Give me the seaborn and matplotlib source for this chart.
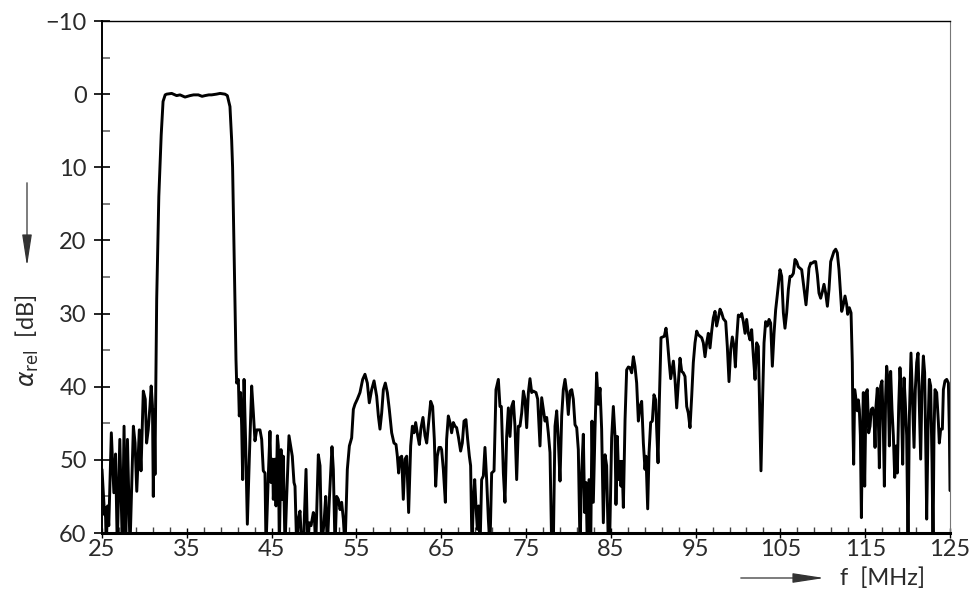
import numpy as np
import pandas as pd
import matplotlib
matplotlib.use("Agg")
import matplotlib.pyplot as plt
import seaborn as sns
from matplotlib.patches import FancyArrowPatch

# ---------------- data ----------------
f_low = [25.0, 25.15, 25.3, 25.4, 25.5, 25.65, 25.8, 26.1, 26.4, 26.6, 26.8, 27.1, 27.4, 27.6,
         27.8, 28.0, 28.3, 28.7, 28.9, 29.1, 29.4, 29.6, 29.87, 30.1, 30.26, 30.45, 30.66, 30.8,
         30.95, 31.05, 31.15, 31.25]
a_low = [51.3, 54.5, 57.5, 56.5, 62, 56.3, 59, 46.3, 54.5, 49.2, 62, 47.2, 62, 45.4,
         62, 47.2, 62, 45.4, 47.7, 54.3, 45.9, 51.5, 40.6, 41.7, 47.7, 45.9, 42.6, 39.9,
         42.6, 55.0, 43.1, 52.0]

f_pass = [31.3, 31.45, 31.7, 31.98, 32.2, 32.45, 32.63, 33.22, 33.8, 34.2, 34.79, 35.38, 35.8,
          36.36, 36.8, 37.15, 37.6, 37.93, 38.5, 38.92, 39.5, 39.78, 40.09, 40.29, 40.4, 40.68, 40.8]
a_pass = [45, 28, 14, 5.6, 1.0, 0.1, 0.0, -0.1, 0.2, 0.1, 0.4, 0.2, 0.1,
          0.1, 0.3, 0.2, 0.1, 0.1, 0.0, -0.1, 0.0, 0.2, 1.7, 6.3, 10, 28, 36.3]

f_mid1 = [40.88, 41.08, 41.19, 41.35, 41.47, 41.59, 41.75, 41.94, 42.14, 42.37, 42.65, 42.85,
          43.04, 43.24, 43.63, 43.83, 44.02, 44.22, 44.34, 44.61,
          44.81, 44.93, 45.12, 45.20, 45.40, 45.52, 45.68, 45.79, 45.91, 46.11, 46.26, 46.38,
          46.58, 46.78, 47.05, 47.25, 47.44, 47.64, 47.76, 47.96, 48.15, 48.35, 48.55, 48.74,
          49.06, 49.25, 49.45, 49.65, 49.92, 50.04, 50.20, 50.51, 50.71, 50.90, 51.18, 51.38,
          51.57, 51.81, 52.12, 52.28, 52.48, 52.67, 52.87, 53.07, 53.26, 53.46, 53.66, 53.93,
          54.17, 54.44, 54.64, 54.83, 55.11, 55.42, 55.74, 56.01, 56.29, 56.52, 56.80, 57.08,
          57.39, 57.59, 57.78, 57.98, 58.18, 58.41, 58.65, 58.88, 59.16, 59.43, 59.67, 59.83,
          59.98, 60.14, 60.34, 60.53, 60.73, 60.93, 61.16, 61.40, 61.60, 61.79, 61.99, 62.23,
          62.42, 62.62, 62.85, 63.09, 63.29, 63.48, 63.76, 63.99, 64.19, 64.35, 64.54, 64.74,
          64.94]
a_mid1 = [39.5, 39.0, 44.0, 40.8, 45.4, 52.7, 39.0, 47.7, 58.8, 49.9, 39.9, 43.6,
          47.4, 45.9, 45.9, 47.2, 51.5, 51.8, 62, 52.2,
          46.1, 53.1, 49.9, 55.4, 49.9, 56.3, 46.7, 48.1, 62, 48.6, 55.4, 49.5,
          62, 55.0, 46.7, 48.1, 49.5, 53.1, 53.6, 62, 58.1, 57.0, 62, 62,
          51.3, 62, 58.6, 59.0, 57.2, 57.7, 62, 49.3, 50.8, 62, 58.6, 55.0,
          62, 55.4, 48.2, 51.3, 62, 55.0, 55.4, 56.8, 55.8, 58.1, 62, 51.3,
          48.1, 47.0, 43.1, 42.4, 41.7, 40.8, 39.0, 38.3, 39.5, 42.2, 40.4, 39.2,
          41.3, 44.0, 45.8, 43.6, 40.4, 39.5, 40.8, 43.1, 46.3, 47.7, 47.9, 49.5,
          51.8, 49.7, 49.5, 55.4, 49.9, 49.5, 57.2, 48.1, 45.4, 46.3, 44.9, 46.7,
          47.9, 45.6, 44.2, 46.7, 47.7, 45.4, 42.0, 42.7, 47.2, 53.6, 49.5, 48.3,
          48.3]

f_mid2 = [65.05, 65.25, 65.49, 65.64, 65.84, 66.04, 66.23, 66.43, 66.63, 66.82, 67.02, 67.29,
          67.49, 67.69, 67.92, 68.12, 68.32, 68.47, 68.63, 68.79, 68.95, 69.10, 69.26, 69.42,
          69.58, 69.77, 69.97, 70.16, 70.36, 70.56, 70.75, 70.95, 71.23, 71.46, 71.74, 71.93,
          72.09, 72.33, 72.52, 72.72, 72.92, 73.11, 73.31, 73.51, 73.70, 73.90, 74.10, 74.29,
          74.49, 74.69, 74.88, 75.08, 75.28, 75.47, 75.67, 75.86, 76.18, 76.38, 76.65, 76.85,
          77.04, 77.24, 77.44, 77.63, 77.83, 78.03, 78.22, 78.42, 78.62, 78.81, 79.01, 79.21,
          79.40, 79.60, 79.80, 79.99, 80.19, 80.39, 80.58, 80.78, 80.98, 81.17, 81.37, 81.56,
          81.76, 81.92, 82.08, 82.23, 82.43, 82.63, 82.78, 82.94, 83.14, 83.33, 83.53, 83.73,
          83.92, 84.12, 84.32, 84.51, 84.71, 84.85, 85.1, 85.3]
a_mid2 = [48.6, 51.3, 55.8, 47.2, 44.0, 44.9, 46.3, 44.9, 45.4, 45.6, 46.8, 48.8,
          47.7, 44.7, 44.5, 47.2, 49.5, 50.8, 62, 55.8, 52.7, 56.3, 59.5, 56.3,
          62, 52.7, 52.2, 48.3, 52.7, 58.1, 62, 51.8, 51.5, 40.4, 39.0, 42.7,
          42.7, 51.8, 55.8, 46.8, 42.9, 46.8, 42.7, 42.0, 45.4, 52.7, 45.4, 45.4,
          43.6, 40.6, 41.7, 45.6, 40.8, 38.9, 40.8, 40.6, 40.8, 41.7, 48.1, 41.5,
          43.1, 44.7, 44.2, 46.3, 49.0, 62, 62, 45.4, 43.3, 47.2, 52.9, 44.0,
          40.4, 39.0, 40.8, 43.8, 40.6, 40.4, 41.7, 45.2, 45.6, 48.6, 62, 51.8,
          46.5, 57.2, 53.1, 62, 52.7, 62, 44.7, 55.8, 45.8, 38.1, 42.4, 40.2,
          45.8, 58.6, 49.3, 50.8, 62, 62, 47.0, 42.7]

f_mid3 = [85.50, 85.61, 85.77, 85.93, 86.09, 86.20, 86.32, 86.48, 86.68, 86.87, 87.07, 87.26,
          87.46, 87.66, 87.85, 88.05, 88.25, 88.44, 88.64, 88.84, 89.03, 89.15, 89.35, 89.51,
          89.70, 89.90, 90.09, 90.29, 90.41, 90.57, 90.72, 90.92, 91.12, 91.31, 91.51, 91.67,
          91.86, 92.06, 92.26, 92.38, 92.57, 92.77, 92.96, 93.16, 93.36, 93.55, 93.75, 93.95,
          94.14, 94.34, 94.54, 94.73, 94.93, 95.13, 95.32, 95.52, 95.72, 95.91, 96.11, 96.31,
          96.50, 96.70, 96.90, 97.09, 97.29, 97.48, 97.68, 97.88, 98.07, 98.27, 98.55, 98.74,
          98.94, 99.14, 99.33, 99.53, 99.69, 99.84, 100.04, 100.24, 100.43, 100.63, 100.83,
          101.02, 101.22, 101.42, 101.61, 101.81, 102.01, 102.20, 102.40, 102.56, 102.71,
          102.91, 103.07, 103.26, 103.46, 103.66, 103.85, 104.05, 104.25, 104.44, 104.64]
a_mid3 = [46.8, 56.1, 46.8, 52.7, 50.2, 53.6, 50.2, 56.5, 44.5, 37.7, 37.3, 37.4,
          38.1, 35.9, 37.2, 39.5, 44.7, 42.7, 42.0, 47.7, 51.3, 49.5, 56.7, 49.0,
          44.9, 44.7, 41.1, 41.8, 45.8, 50.4, 42.2, 33.3, 33.2, 33.1, 32.0, 33.6,
          36.3, 38.9, 37.4, 36.5, 39.0, 42.9, 39.5, 36.1, 37.9, 38.1, 38.6, 42.7,
          43.6, 45.6, 41.3, 36.7, 34.0, 32.4, 32.9, 33.1, 33.3, 34.0, 35.9, 34.0,
          32.7, 34.7, 32.4, 30.6, 29.7, 31.7, 30.6, 29.4, 29.9, 30.7, 31.1, 34.5,
          39.3, 34.9, 33.2, 34.5, 37.3, 33.6, 30.2, 30.4, 30.0, 31.1, 32.7,
          30.8, 32.7, 33.6, 32.2, 35.8, 39.0, 34.0, 34.5, 43.6, 51.5,
          41.3, 34.0, 31.1, 31.7, 30.8, 31.3, 37.2, 32.7, 29.5, 27.4]

f_high = [104.95, 105.15, 105.35, 105.54, 105.74, 105.94, 106.13, 106.33, 106.53, 106.72,
          106.92, 107.11, 107.31, 107.51, 107.70, 107.90, 108.02, 108.18, 108.37, 108.57,
          108.77, 108.96, 109.16, 109.36, 109.55, 109.75, 109.95, 110.14, 110.34, 110.54,
          110.73, 110.93, 111.12, 111.32, 111.52, 111.71, 111.91, 112.11, 112.23, 112.42,
          112.62, 112.82, 112.93, 113.13, 113.33, 113.48, 113.56, 113.64, 113.76, 113.92,
          114.07, 114.19, 114.31, 114.43, 114.55, 114.66, 114.78, 114.94, 115.10, 115.25,
          115.41, 115.57, 115.72, 115.88, 116.04, 116.16, 116.27, 116.43, 116.55, 116.67,
          116.82, 116.98, 117.14, 117.26, 117.41, 117.53, 117.69, 117.85, 118.00, 118.16,
          118.32, 118.48, 118.63, 118.79, 118.95, 119.10, 119.26, 119.42, 119.58, 119.73,
          119.89, 120.05, 120.21, 120.40, 120.56, 120.76, 120.91, 121.07, 121.23, 121.38,
          121.54, 121.70, 121.86, 122.01, 122.17, 122.25, 122.41, 122.56, 122.72, 122.88,
          123.00, 123.11, 123.23, 123.43, 123.63, 123.74, 123.90, 124.10, 124.22, 124.41,
          124.61, 124.81, 124.93, 125.0]
a_high = [24.0, 24.9, 29.9, 32.0, 29.9, 26.7, 24.9, 24.9, 24.5, 22.6,
          22.9, 23.6, 23.8, 24.0, 25.8, 27.6, 28.8, 26.7, 23.8, 23.1,
          23.1, 22.9, 22.9, 24.7, 27.2, 27.9, 27.0, 26.0, 27.2, 29.0,
          26.7, 22.9, 22.2, 21.5, 21.2, 21.7, 24.0, 27.6, 29.7, 28.8,
          27.6, 28.8, 30.1, 29.2, 29.9, 36.7, 45.8, 50.6, 40.4, 41.8,
          43.3, 41.8, 43.1, 46.7, 57.9, 47.2, 40.8, 53.6, 40.8, 40.4,
          46.3, 45.4, 43.1, 42.9, 44.0, 48.3, 42.7, 40.2, 44.5, 51.1,
          39.9, 39.2, 45.8, 53.6, 41.3, 37.2, 39.0, 48.1, 37.9, 43.1,
          46.7, 52.4, 48.1, 51.8, 42.7, 37.4, 41.3, 50.6, 38.8, 42.2,
          46.7, 62, 44.0, 35.4, 41.3, 48.3, 40.4, 36.7, 35.4, 42.7,
          49.9, 39.9, 35.8, 38.1, 50.4, 58.1, 45.8, 39.0, 39.9, 50.4,
          62, 46.7, 40.4, 40.8, 44.9, 47.7, 45.8, 45.8, 40.4, 39.2,
          39.0, 39.5, 46.5, 54.2]

x_ticks = [25, 35, 45, 55, 65, 75, 85, 95, 105, 115, 125]
y_ticks = [-10, 0, 10, 20, 30, 40, 50, 60]

freq = f_low + f_pass + f_mid1 + f_mid2 + f_mid3 + f_high
att = a_low + a_pass + a_mid1 + a_mid2 + a_mid3 + a_high
df = pd.DataFrame({"f": freq, "a": att})

# ---------------- plot ----------------
sns.set_theme(style="white")
plt.rcParams['font.family'] = ['Lato', 'DejaVu Sans']
plt.rcParams['mathtext.fontset'] = 'dejavusans'

fig = plt.figure(figsize=(9.74, 5.96), dpi=100)
ax = fig.add_axes([102/974, 1-533/596, (950-102)/974, (533-21)/596])

sns.lineplot(data=df, x="f", y="a", ax=ax, sort=False, estimator=None,
             color="black", linewidth=2.1)

ax.set_xlim(25, 125)
ax.set_ylim(60, -10)
ax.set_xticks(x_ticks)
ax.set_xticklabels([str(v) for v in x_ticks])
ax.set_xticks(np.arange(27, 125, 2), minor=True)
ax.set_yticks(y_ticks)
ax.set_yticklabels([("\u2212" + str(-v)) if v < 0 else str(v) for v in y_ticks])
ax.set_yticks(np.arange(-5, 60, 10), minor=True)

tc = "#2a2a2a"
ax.tick_params(axis='y', which='major', direction='inout', length=12, width=1.2,
               colors="black", labelcolor=tc, labelsize=17, pad=5, left=True)
ax.tick_params(axis='y', which='minor', direction='in', length=6, width=1.2,
               color="#666666", left=True)
ax.tick_params(axis='x', which='major', direction='inout', length=7, width=1.0,
               colors="black", labelcolor=tc, labelsize=17, pad=1, bottom=True)
ax.tick_params(axis='x', which='minor', direction='in', length=4, width=1.0,
               color="#444444", bottom=True)

for side, lw, col in [("left", 1.4, "black"), ("bottom", 2.2, "black"),
                      ("top", 1.0, "black"), ("right", 0.8, "#777777")]:
    ax.spines[side].set_visible(True)
    ax.spines[side].set_linewidth(lw)
    ax.spines[side].set_color(col)

ax.set_xlabel("")
ax.set_ylabel("")
ax.grid(False)

# axis labels with arrows
fig.text(840/974, 1-578/596, "f  [MHz]", ha="left", va="center", fontsize=17, color=tc)
fig.add_artist(FancyArrowPatch((738/974, 1-578/596), (827/974, 1-578/596),
                               transform=fig.transFigure,
                               arrowstyle="-|>,head_length=1.3,head_width=0.2",
                               mutation_scale=15, lw=0.9, color="#333333"))

fig.text(27/974, 1-341/596, r"$\alpha_{\mathrm{rel}}$  [dB]", ha="center", va="center",
         rotation=90, fontsize=17, color=tc)
fig.add_artist(FancyArrowPatch((27/974, 1-180/596), (27/974, 1-269/596),
                               transform=fig.transFigure,
                               arrowstyle="-|>,head_length=1.3,head_width=0.2",
                               mutation_scale=15, lw=0.9, color="#333333"))

fig.savefig("out.png", dpi=100)
